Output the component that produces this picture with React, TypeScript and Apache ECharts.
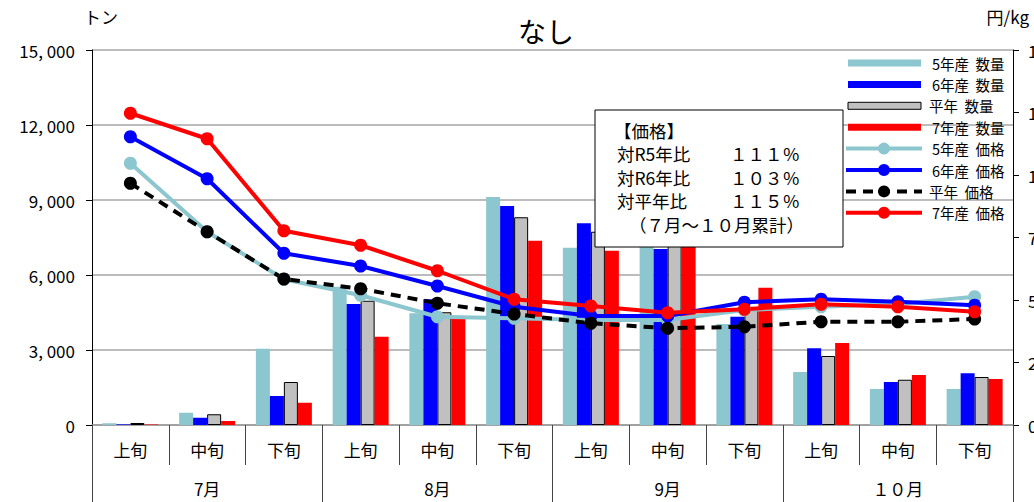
import React, { useEffect, useRef } from "react";
import * as echarts from "echarts";

const periods = ["上旬", "中旬", "下旬", "上旬", "中旬", "下旬", "上旬", "中旬", "下旬", "上旬", "中旬", "下旬"];
const months = ["7月", "8月", "9月", "１０月"];

// 数量 (トン)
const qtyR5 = [70, 490, 3050, 5530, 4470, 9120, 7090, 7300, 4040, 2120, 1440, 1440];
const qtyR6 = [25, 290, 1160, 4840, 5030, 8760, 8070, 7040, 4330, 3070, 1720, 2070];
const qtyAvg = [80, 430, 1720, 4970, 4510, 8310, 7730, 7700, 4600, 2760, 1810, 1920];
const qtyR7 = [20, 160, 890, 3530, 4270, 7370, 6970, 7800, 5490, 3280, 2000, 1840];

// 価格 (円/kg)
const priceR5 = [1047, 773, 583, 519, 433, 427, 420, 420, 460, 473, 484, 513];
const priceR6 = [1153, 985, 687, 636, 556, 473, 436, 436, 491, 503, 493, 479];
const priceAvg = [967, 773, 584, 545, 487, 444, 407, 387, 393, 413, 413, 424];
const priceR7 = [1247, 1145, 777, 719, 617, 503, 476, 449, 463, 483, 473, 453];

const seriesNames = ["5年産 数量", "6年産 数量", "平年 数量", "7年産 数量", "5年産 価格", "6年産 価格", "平年 価格", "7年産 価格"];
const legendLabels = ["5年産  数量", "6年産  数量", "平年  数量", "7年産  数量", "5年産  価格", "6年産  価格", "平年  価格", "7年産  価格"];
const boxLines = ["【価格】", "対R5年比", "対R6年比", "対平年比"];
const boxValues = ["１１１％", "１０３％", "１１５％"];
const boxFooter = "（７月～１０月累計）";

const C_TEAL = "#8CC6CE";
const C_BLUE = "#0000FF";
const C_GRAY = "#C0C0C0";
const C_RED = "#FF0000";
const FONT = "'Noto Sans CJK JP', 'Noto Sans', sans-serif";

export default function App() {
  const ref = useRef<HTMLDivElement>(null);
  useEffect(() => {
    if (!ref.current) return;
    const chart = echarts.init(ref.current, null, { renderer: "svg" });

    const barBase = (name: string, data: number[], color: string, border?: boolean) => ({
      name,
      type: "bar",
      xAxisIndex: 0,
      yAxisIndex: 0,
      data,
      barWidth: 14,
      barGap: "0%",
      itemStyle: border ? { color, borderColor: "#000", borderWidth: 1 } : { color },
      z: 2,
    });
    const lineBase = (name: string, data: number[], color: string, dashed?: boolean) => ({
      name,
      type: "line",
      xAxisIndex: 0,
      yAxisIndex: 1,
      data,
      symbol: "circle",
      symbolSize: 13,
      lineStyle: { color, width: 4, type: dashed ? [10, 7] : "solid" },
      itemStyle: { color },
      z: 5,
    });

    // legend built from graphic elements
    const legendEls: any[] = [];
    const legendColors = [C_TEAL, C_BLUE, C_GRAY, C_RED, C_TEAL, C_BLUE, "#000", C_RED];
    legendLabels.forEach((nm, i) => {
      const y = 63 + i * 21.4;
      if (i < 4) {
        legendEls.push({
          type: "rect",
          shape: { x: 848, y: y - 3.5, width: 73, height: 7 },
          style: { fill: legendColors[i], stroke: i === 2 ? "#000" : null, lineWidth: 1 },
          z: 100,
        });
      } else {
        legendEls.push({
          type: "line",
          shape: { x1: 846, y1: y, x2: 922, y2: y },
          style: { stroke: legendColors[i], lineWidth: 4, lineDash: i === 6 ? [10, 7] : null },
          z: 100,
        });
        legendEls.push({
          type: "circle",
          shape: { cx: 884, cy: y, r: 6 },
          style: { fill: legendColors[i] },
          z: 101,
        });
      }
      legendEls.push({
        type: "text",
        x: nm.startsWith("平年") ? 929 : 932,
        y,
        style: { text: nm, fill: "#000", font: `14.5px ${FONT}`, verticalAlign: "middle" },
        z: 101,
      });
    });

    const boxEls: any[] = [
      {
        type: "rect",
        shape: { x: 595, y: 110, width: 248, height: 137 },
        style: { fill: "#fff", stroke: "#000", lineWidth: 1 },
        z: 90,
      },
    ];
    const lineYs = [130, 153, 177, 200];
    boxLines.forEach((t, i) => {
      boxEls.push({
        type: "text",
        x: i === 0 ? 614 : 617,
        y: lineYs[i],
        style: { text: t, fill: "#000", font: `17.5px ${FONT}`, verticalAlign: "middle" },
        z: 91,
      });
      if (i > 0) {
        boxEls.push({
          type: "text",
          x: 730,
          y: lineYs[i],
          style: { text: boxValues[i - 1], fill: "#000", font: `17.5px ${FONT}`, verticalAlign: "middle" },
          z: 91,
        });
      }
    });
    boxEls.push({
      type: "text",
      x: 629,
      y: 224,
      style: { text: boxFooter, fill: "#000", font: `17.5px ${FONT}`, verticalAlign: "middle" },
      z: 91,
    });

    chart.setOption({
      animation: false,
      backgroundColor: "#fff",
      textStyle: { fontFamily: FONT },
      title: {
        text: "なし",
        left: 513,
        top: 12,
        textStyle: { fontSize: 28, fontWeight: "normal", color: "#000", fontFamily: FONT },
      },
      grid: { left: 92, right: 21, top: 50, bottom: 77, containLabel: false, outerBoundsMode: "none" },
      xAxis: [
        {
          type: "category",
          data: periods,
          position: "bottom",
          axisLine: { show: true, lineStyle: { color: "#999", width: 1.5 } },
          axisTick: { show: true, length: 40, lineStyle: { color: "#444", width: 1 } },
          axisLabel: { color: "#000", fontSize: 17, margin: 16, fontFamily: FONT },
        },
        {
          type: "category",
          data: months,
          position: "bottom",
          offset: 0,
          axisLine: { show: false },
          axisTick: { show: true, length: 77, lineStyle: { color: "#444", width: 1 } },
          axisLabel: { color: "#000", fontSize: 17, margin: 55, fontFamily: FONT },
        },
      ],
      yAxis: [
        {
          type: "value",
          min: 0,
          max: 15000,
          interval: 3000,
          position: "left",
          name: "トン",
          nameLocation: "end",
          nameGap: 25,
          nameTextStyle: { color: "#000", fontSize: 17, align: "left", padding: [0, 0, 0, -8] },
          axisLine: { show: true, lineStyle: { color: "#000", width: 1 } },
          axisTick: { show: true, length: 6, lineStyle: { color: "#000" } },
          axisLabel: {
            color: "#000",
            fontSize: 17,
            margin: 17,
            formatter: (v: number) => v.toLocaleString("en-US").replace(",", ", "),
          },
          splitLine: { show: true, lineStyle: { color: "#A6A6A6", width: 1.5 } },
        },
        {
          type: "value",
          min: 0,
          max: 1500,
          interval: 250,
          position: "right",
          name: "円/kg",
          nameLocation: "end",
          nameGap: 25,
          nameTextStyle: { color: "#000", fontSize: 17, align: "right", padding: [0, -16, 0, 0] },
          axisLine: { show: true, lineStyle: { color: "#000", width: 1 } },
          axisTick: { show: true, length: 6, lineStyle: { color: "#000" } },
          axisLabel: { color: "#000", fontSize: 17, margin: 15 },
          splitLine: { show: false },
        },
      ],
      series: [
        barBase(seriesNames[0], qtyR5, C_TEAL),
        barBase(seriesNames[1], qtyR6, C_BLUE),
        barBase(seriesNames[2], qtyAvg, C_GRAY, true),
        barBase(seriesNames[3], qtyR7, C_RED),
        lineBase(seriesNames[4], priceR5, C_TEAL),
        lineBase(seriesNames[5], priceR6, C_BLUE),
        lineBase(seriesNames[6], priceAvg, "#000", true),
        lineBase(seriesNames[7], priceR7, C_RED),
      ],
      graphic: [...boxEls, ...legendEls],
    });
    return () => chart.dispose();
  }, []);
  return <div ref={ref} style={{ position: "fixed", left: 0, top: 0, width: 1034, height: 502 }} />;
}
